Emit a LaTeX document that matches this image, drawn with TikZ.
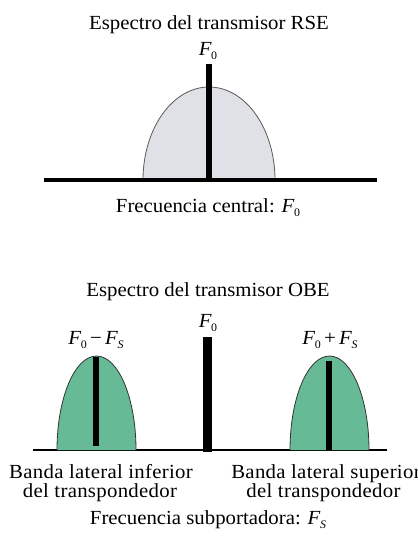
\documentclass[tikz,border=0pt]{standalone}
\usepackage{fontspec}
\setmainfont[FakeStretch=1.04]{Liberation Serif}
\definecolor{domegray}{RGB}{224,225,230}
\definecolor{domeline}{RGB}{90,90,90}
\definecolor{humpgreen}{RGB}{102,187,150}
\definecolor{baseline}{RGB}{120,120,120}
\newcommand\Fsub[1]{\textit{F}\kern-0.5pt\raisebox{-4pt}{\fontsize{11.5}{11.5}\selectfont #1}}
\begin{document}
\begin{tikzpicture}[x=1pt,y=-1pt,
  lbl/.style={font=\fontsize{20}{18.5}\selectfont, inner sep=0pt, anchor=base},
  band/.style={lbl, font=\fontsize{20}{18.5}\selectfont\addfontfeature{LetterSpace=1.5}},
  bar/.style={line width=6pt},
  dome/.style={fill=domegray, draw=domeline, line width=0.8pt},
  hump/.style={fill=humpgreen, draw=black!80, line width=0.8pt}]
\useasboundingbox (0,0) rectangle (417,537);
% ---------- top: RSE ----------
\node[lbl] (t1) at (209,30) {Espectro del transmisor RSE};
\node[lbl] (f0a) at (208,56) {\Fsub{0}};
\draw[dome] (143,180) arc[start angle=180, end angle=360, x radius=66, y radius=93];
\coordinate (blA) at (44,180);
\coordinate (blB) at (377,180);
\draw[line width=4pt] (blA) -- (blB);
\coordinate (barT) at (209,64);
\coordinate (barB) at (209,182);
\draw[line width=5.5pt] (barT) -- (barB);
\node[lbl] (c1) at (208,212) {Frecuencia central: \Fsub{0}};
% ---------- bottom: OBE ----------
\node[lbl] (t2) at (208,296) {Espectro del transmisor OBE};
\node[lbl] (f0b) at (208,327) {\Fsub{0}};
\node[lbl] (fm) at (96,344) {\Fsub{0}\,−\,\Fsub{\textit{S}}};
\node[lbl] (fp) at (330,344) {\Fsub{0}\,+\,\Fsub{\textit{S}}};
\coordinate (bl2A) at (33,450);
\coordinate (bl2B) at (387,450);
\draw[baseline, line width=1.8pt] (bl2A) -- (bl2B);
\draw[hump] (57,450) arc[start angle=180, end angle=360, x radius=39.5, y radius=94];
\draw[hump] (290,450) arc[start angle=180, end angle=360, x radius=39.5, y radius=94];
\coordinate (lbT) at (96,357);
\coordinate (lbB) at (96,446);
\draw[bar] (lbT) -- (lbB);
\coordinate (rbT) at (329,361);
\coordinate (rbB) at (329,450);
\draw[bar] (rbT) -- (rbB);
\coordinate (cbT) at (207.5,337);
\coordinate (cbB) at (207.5,452);
\draw[line width=8.5pt] (cbT) -- (cbB);
\node[band] (bli1) at (101,478) {Banda lateral inferior};
\node[band] (bli2) at (100,497) {del transpondedor};
\node[band] (bls1) at (326,478) {Banda lateral superior};
\node[band] (bls2) at (323.5,497) {del transpondedor};
\node[lbl] (fs) at (208,524) {Frecuencia subportadora: \Fsub{\textit{S}}};
\end{tikzpicture}
\end{document}
